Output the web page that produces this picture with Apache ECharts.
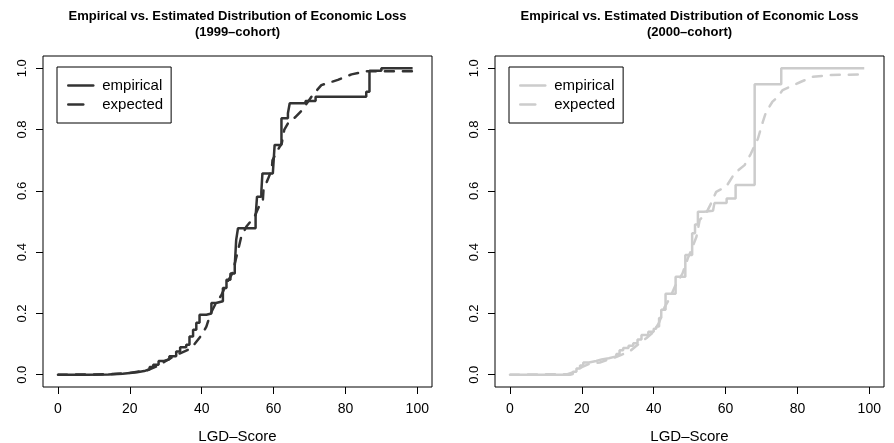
<!DOCTYPE html>
<html>
<head>
<meta charset="utf-8">
<script src="https://cdn.jsdelivr.net/npm/echarts@6/dist/echarts.min.js"></script>
<style>
  html, body { margin: 0; padding: 0; background: #fff; }
  #chart { width: 894px; height: 443px; }
</style>
</head>
<body>
<div id="chart"></div>
<script>
// Tick positions
const xTicks = [0, 20, 40, 60, 80, 100];
const yTicks = [0, 0.2, 0.4, 0.6, 0.8, 1.0];

const cohorts = ['1999', '2000'];
const seriesNames = ['empirical', 'expected'];

// Empirical ECDF jump points [LGD-score, cumulative share], 1999 cohort
const emp1999 = [
  [0, 0], [8, 0.001], [14, 0.003], [18, 0.006], [20, 0.008], [22, 0.012], [24, 0.018],
  [25.5, 0.025], [26.5, 0.033], [28, 0.045], [29.5, 0.05], [31, 0.06], [32.9, 0.076],
  [34, 0.09], [35.7, 0.098], [36.6, 0.125], [37.6, 0.147], [38.5, 0.17], [39.4, 0.196],
  [41.3, 0.2], [42.7, 0.234], [44, 0.24], [45.9, 0.283], [46.9, 0.31], [48, 0.33],
  [49.2, 0.355], [49.6, 0.44], [50.1, 0.478], [55, 0.516], [55.4, 0.581], [56.6, 0.597],
  [56.9, 0.657], [59.8, 0.663], [60.3, 0.75], [62.2, 0.837], [64, 0.853], [64.5, 0.886],
  [68.9, 0.893], [71.7, 0.907], [85.8, 0.923], [86.7, 0.992], [90, 1.0], [98.7, 1.0]
];
// Estimated distribution, 1999 cohort
const exp1999 = [
  [0, 0], [10, 0.001], [15, 0.002], [20, 0.006], [25, 0.015], [28, 0.03], [30, 0.045],
  [33, 0.065], [36, 0.08], [38, 0.1], [40, 0.13], [41.3, 0.157], [42.5, 0.2], [44, 0.235],
  [45.5, 0.26], [47, 0.3], [48.5, 0.33], [50, 0.4], [51, 0.45], [52.4, 0.483], [54.7, 0.516],
  [56, 0.55], [57, 0.565], [57.2, 0.603], [58.5, 0.64], [59.5, 0.67], [59.7, 0.7], [61, 0.73],
  [62.3, 0.756], [63, 0.8], [64, 0.82], [66, 0.84], [68, 0.864], [70.9, 0.913], [73.3, 0.945],
  [77.9, 0.962], [81.7, 0.98], [86, 0.99], [99, 0.99]
];
// Empirical ECDF jump points, 2000 cohort
const emp2000 = [
  [0, 0], [16.7, 0.002], [17.5, 0.01], [18.5, 0.02], [19.5, 0.03], [20.4, 0.04], [22, 0.045],
  [24, 0.05], [25.5, 0.054], [27.5, 0.06], [29.6, 0.068], [30.5, 0.08], [31.5, 0.087],
  [33, 0.095], [34.3, 0.103], [35.5, 0.115], [36.6, 0.13], [38.5, 0.14], [40, 0.15],
  [40.7, 0.157], [41.5, 0.185], [42.1, 0.212], [43.3, 0.264], [46.1, 0.32], [48.8, 0.391],
  [50.7, 0.462], [51.5, 0.49], [52.3, 0.532], [54, 0.535], [56.5, 0.54], [56.9, 0.56],
  [60.3, 0.575], [62.8, 0.619], [68.1, 0.948], [75.5, 1.0], [98.6, 1.0]
];
// Estimated distribution, 2000 cohort
const exp2000 = [
  [0, 0], [16, 0.002], [18, 0.01], [20, 0.025], [22, 0.035], [25, 0.04], [28.7, 0.054],
  [31, 0.065], [33.3, 0.076], [36.1, 0.103], [38, 0.12], [40, 0.14], [41.5, 0.17], [43, 0.22],
  [44.5, 0.25], [46, 0.29], [48, 0.33], [49.5, 0.38], [50.8, 0.417], [51.9, 0.45], [52.8, 0.505],
  [54.6, 0.527], [56, 0.56], [57.4, 0.597], [60.2, 0.614], [62.5, 0.657], [65.3, 0.684],
  [67, 0.72], [69, 0.77], [70.4, 0.826], [71.3, 0.858], [73, 0.89], [74.5, 0.907],
  [75.9, 0.929], [78, 0.94], [81, 0.956], [84.3, 0.972], [89.4, 0.978], [98.6, 0.98]
];

const panelColors = ['#333333', '#cccccc'];
const panelData = [[emp1999, exp1999], [emp2000, exp2000]];

const FONT = 'Liberation Sans';
const panelLeft = [43, 495];
const panelW = 389, panelTop = 56, panelH = 331;

const grids = [], xAxes = [], yAxes = [], series = [], titles = [], legends = [];

cohorts.forEach((c, i) => {
  grids.push({
    left: panelLeft[i], top: panelTop, width: panelW, height: panelH,
    containLabel: false, outerBoundsMode: 'none',
    show: true, borderColor: '#000', borderWidth: 1, backgroundColor: 'transparent'
  });
  xAxes.push({
    type: 'value', gridIndex: i, min: -4.17, max: 104.1,
    axisLine: { show: false, onZero: false },
    axisTick: { show: true, inside: false, length: 7, customValues: xTicks, lineStyle: { color: '#000', width: 1 } },
    axisLabel: { customValues: xTicks, margin: 15, fontSize: 14, color: '#000', fontFamily: FONT },
    splitLine: { show: false },
    name: 'LGD\u2013Score', nameLocation: 'middle', nameGap: 42,
    nameTextStyle: { fontSize: 15, color: '#000', fontFamily: FONT }
  });
  yAxes.push({
    type: 'value', gridIndex: i, min: -0.04, max: 1.04,
    axisLine: { show: false, onZero: false },
    axisTick: { show: true, inside: false, length: 7, customValues: yTicks, lineStyle: { color: '#000', width: 1 } },
    axisLabel: {
      customValues: yTicks, rotate: 90, margin: 14, fontSize: 13, color: '#000', fontFamily: FONT,
      formatter: v => v.toFixed(1)
    },
    splitLine: { show: false }
  });
  const centerX = panelLeft[i] + panelW / 2;
  titles.push({
    text: 'Empirical vs. Estimated Distribution of Economic Loss\n(' + c + '\u2013cohort)',
    left: centerX, top: 8, textAlign: 'center', padding: 0,
    textStyle: { fontSize: 13, fontWeight: 'bold', lineHeight: 16, color: '#000', fontFamily: FONT }
  });
  const names = seriesNames.map(n => n + ' ' + c);
  series.push({
    name: names[0], type: 'line', xAxisIndex: i, yAxisIndex: i,
    data: panelData[i][0], step: 'end', symbol: 'none', silent: true,
    lineStyle: { color: panelColors[i], width: 2.5 },
    itemStyle: { color: panelColors[i] }
  });
  series.push({
    name: names[1], type: 'line', xAxisIndex: i, yAxisIndex: i,
    data: panelData[i][1], symbol: 'none', silent: true,
    lineStyle: { color: panelColors[i], width: 2.5, type: [9, 9], cap: 'round' },
    itemStyle: { color: panelColors[i] }
  });
  legends.push({
    data: [
      { name: names[0] },
      { name: names[1], lineStyle: { type: [15, 20] } }
    ],
    orient: 'vertical', left: panelLeft[i] + 14, top: 67,
    padding: [11, 8, 11, 10], itemWidth: 25, itemHeight: 14, itemGap: 4,
    borderColor: '#000', borderWidth: 1, borderRadius: 0, selectedMode: false,
    itemStyle: { color: 'transparent', borderWidth: 0, opacity: 0 },
    lineStyle: { width: 2.5, cap: 'round' },
    formatter: n => n.split(' ')[0],
    textStyle: { fontSize: 15, color: '#000', fontFamily: FONT, padding: [0, 0, 0, 4] }
  });
});

const chart = echarts.init(document.getElementById('chart'), null, { renderer: 'canvas' });
chart.setOption({
  animation: false,
  backgroundColor: '#fff',
  textStyle: { fontFamily: FONT },
  title: titles,
  legend: legends,
  grid: grids,
  xAxis: xAxes,
  yAxis: yAxes,
  series: series
});
</script>
</body>
</html>
